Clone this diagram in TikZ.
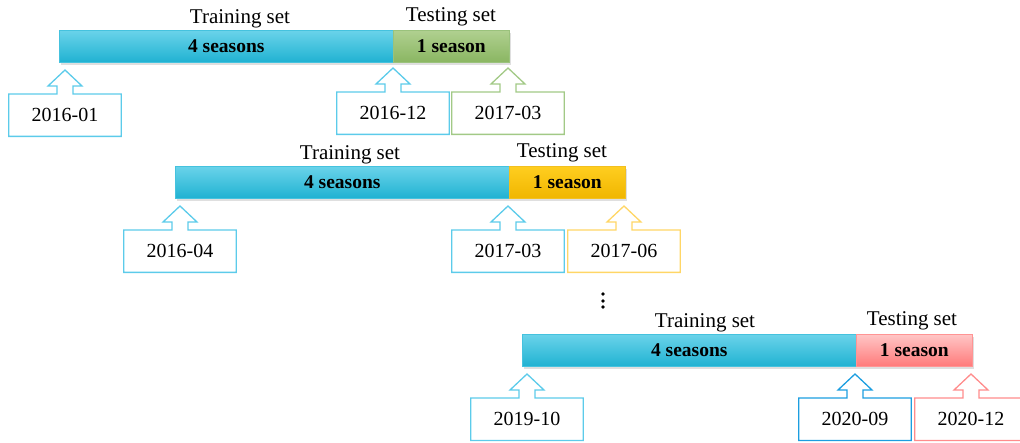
\documentclass[tikz,border=0pt]{standalone}
\usepackage{fontspec}
\setmainfont{Liberation Serif}
\usetikzlibrary{calc,shadows}
\definecolor{trtop}{HTML}{6AD3EA}
\definecolor{trbot}{HTML}{20B2D2}
\definecolor{trline}{HTML}{45C2DE}
\definecolor{grtop}{HTML}{B0D090}
\definecolor{grbot}{HTML}{8AB662}
\definecolor{grline}{HTML}{9AC27C}
\definecolor{yetop}{HTML}{FFCE20}
\definecolor{yebot}{HTML}{F0B600}
\definecolor{yeline}{HTML}{F2C020}
\definecolor{pktop}{HTML}{FFC6C6}
\definecolor{pkbot}{HTML}{FF7A7A}
\definecolor{pkline}{HTML}{FF9494}
\definecolor{cyanline}{HTML}{5CCBEA}
\definecolor{blueline}{HTML}{1C9EE0}
\definecolor{greenline}{HTML}{A2C986}
\definecolor{yellowline}{HTML}{FFD666}
\definecolor{pinkline}{HTML}{FF8C8C}
\tikzset{
  bar/.style={anchor=north west, minimum height=32pt, inner sep=0pt,
    font=\fontsize{19.5}{22}\selectfont\bfseries, line width=0.6pt,
    drop shadow={shadow xshift=1.5pt, shadow yshift=-2.5pt, opacity=0.25}},
  trainbar/.style={bar, minimum width=334pt, top color=trtop, bottom color=trbot, draw=trline},
  testbar/.style={bar, minimum width=116pt},
  greenbar/.style={testbar, top color=grtop, bottom color=grbot, draw=grline},
  yellowbar/.style={testbar, top color=yetop, bottom color=yebot, draw=yeline},
  pinkbar/.style={testbar, top color=pktop, bottom color=pkbot, draw=pkline},
  setlabel/.style={anchor=base, font=\fontsize{21}{24}\selectfont},
  datebox/.style={anchor=north, minimum width=112pt, minimum height=42pt, inner sep=0pt,
    font=\fontsize{20}{24}\selectfont},
  outline/.style={line width=1.3pt, line join=miter},
  dot/.style={circle, fill=black, inner sep=0pt, minimum size=3.6pt}
}
\newcommand\callout[5]{%
  \node[datebox] (#1) at (#2,#3) {#5};
  \draw[outline, draw=#4] (#1.north east) -- ($(#1.north)+(8,0)$) -- ++(0,-8) -- ++(9,0)
    -- ($(#1.north)+(0,-24)$) -- ($(#1.north)+(-17,-8)$) -- ++(9,0) -- ++(0,8)
    -- (#1.north west) -- (#1.south west) -- (#1.south east) -- cycle;
}
\begin{document}
\begin{tikzpicture}[x=1pt,y=-1pt]
\useasboundingbox (0,0) rectangle (1020,443);
% row 1
\node[trainbar] (tr1) at (59,30) {4 seasons};
\node[greenbar] (te1) at (393,30) {1 season};
\node[setlabel] (ltr1) at (240,24) {Training set};
\node[setlabel] (lte1) at (451,22) {Testing set};
\callout{d1}{65}{94}{cyanline}{2016-01}
\callout{d2}{393}{92}{cyanline}{2016-12}
\callout{d3}{508}{92}{greenline}{2017-03}
% row 2
\node[trainbar] (tr2) at (175,166) {4 seasons};
\node[yellowbar] (te2) at (509,166) {1 season};
\node[setlabel] (ltr2) at (350,160) {Training set};
\node[setlabel] (lte2) at (562,158) {Testing set};
\callout{d4}{180}{230}{cyanline}{2016-04}
\callout{d5}{508}{230}{cyanline}{2017-03}
\callout{d6}{624}{230}{yellowline}{2017-06}
% dots
\node[dot] (p1) at (603,294) {};
\node[dot] (p2) at (603,301) {};
\node[dot] (p3) at (603,307) {};
% row 3
\node[trainbar] (tr3) at (522,334) {4 seasons};
\node[pinkbar] (te3) at (856,334) {1 season};
\node[setlabel] (ltr3) at (705,328) {Training set};
\node[setlabel] (lte3) at (912,326) {Testing set};
\callout{d7}{527}{398}{cyanline}{2019-10}
\callout{d8}{855}{398}{blueline}{2020-09}
\callout{d9}{971}{398}{pinkline}{2020-12}
\end{tikzpicture}
\end{document}
